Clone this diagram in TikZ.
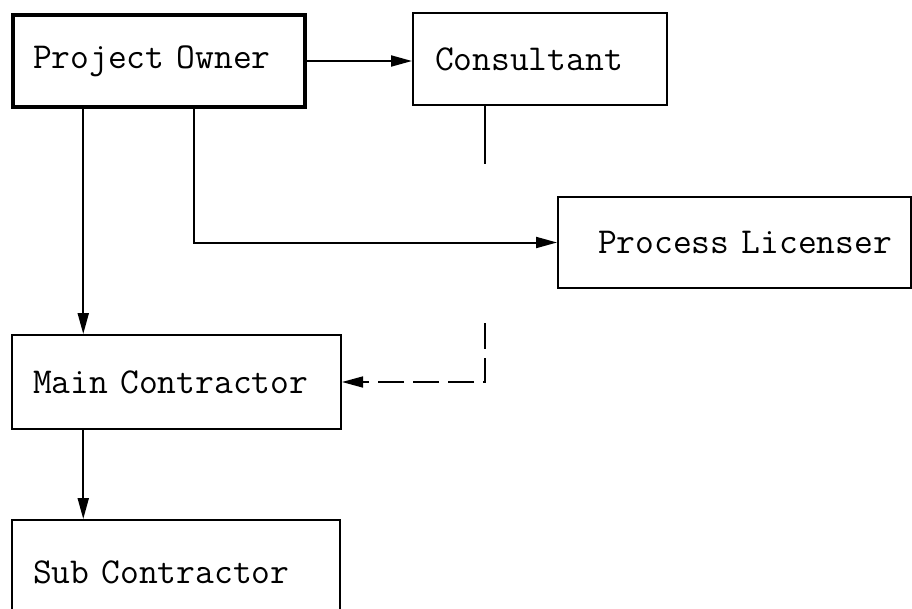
\documentclass[tikz,border=0pt]{standalone}
\usetikzlibrary{arrows.meta}

\begin{document}
\begin{tikzpicture}[x=1pt, y=-1pt]

% Styles
\tikzset{
  box/.style={draw, line width=2pt, align=left,
    font=\ttfamily\fontsize{36.5}{42}\selectfont},
  link/.style={line width=2pt, -{Triangle[length=21pt, width=11pt]}},
  dashlink/.style={link, line width=1.6pt, dash pattern=on 26pt off 9pt}
}

\useasboundingbox (0,0) rectangle (912,608);

% Boxes
\node[box, line width=3.5pt, inner xsep=20pt, text width=252pt, minimum height=92pt]
  (owner) at (159,61) {\mbox{Project Owner}};
\node[box, inner xsep=22pt, text width=210pt, minimum height=92pt]
  (consult) at (540,59) {\mbox{Consultant}};
\node[box, inner xsep=40pt, text width=273pt, minimum height=91pt]
  (licenser) at (734.5,242.5) {\mbox{Process Licenser}};
\node[box, inner xsep=21pt, text width=287pt, minimum height=94pt]
  (main) at (176.5,382) {\mbox{Main Contractor}};
\node[box, inner xsep=21pt, text width=286pt, minimum height=104pt]
  (sub) at (176,572) {\mbox{Sub Contractor}};

% Coordinates
\coordinate (ownerA) at ([xshift=72pt]owner.south west);
\coordinate (ownerB) at ([xshift=183pt]owner.south west);
\coordinate (consA) at ([xshift=73pt]consult.south west);
\coordinate (consB) at ([xshift=73pt, yshift=-58pt]consult.south west);
\coordinate (consC) at ([xshift=73pt, yshift=-217pt]consult.south west);

% Solid links
\draw[link] (owner.east) -- (owner.east -| consult.west);
\draw[link] (ownerA) -- (ownerA |- main.north);
\draw[link] (ownerB) |- (licenser.west);
\draw[link] (main.south -| ownerA) -- (sub.north -| ownerA);

% Consultant to main contractor
\draw[line width=2pt] (consA) -- (consB);
\draw[dashlink] (consC) |- (main.east);

\end{tikzpicture}
\end{document}
